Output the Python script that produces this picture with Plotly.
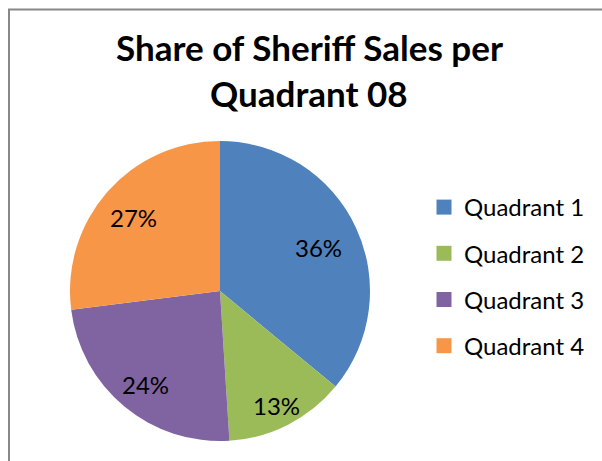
import numpy as np
import plotly.graph_objects as go

labels = ["Quadrant 1", "Quadrant 2", "Quadrant 3", "Quadrant 4"]
values = [36, 13, 24, 27]
colors = ["#4F81BD", "#9BBB59", "#8064A2", "#F79646"]
title_lines = ["Share of Sheriff Sales per", "Quadrant 08"]

W, H = 602, 461
FONT = "Lato"
CX, CY, R = 220, 291, 150  # pie centre / radius in pixels

fig = go.Figure()
fig.add_trace(go.Pie(
    labels=labels, values=values, sort=False, direction="clockwise", rotation=0,
    marker=dict(colors=colors, line=dict(width=0)),
    textinfo="none",
    domain=dict(x=[(CX - R) / W, (CX + R) / W], y=[1 - (CY + R) / H, 1 - (CY - R) / H]),
    showlegend=False, hoverinfo="label+percent",
))
for lab, col in zip(labels, colors):
    fig.add_trace(go.Scatter(
        x=[None], y=[None], mode="markers", name=lab, legendgroup=lab,
        marker=dict(symbol="square", size=15, color=col), showlegend=True,
    ))

annos = []
for i, line in enumerate(title_lines):
    annos.append(dict(text="<b>" + line + "</b>", x=309 / W, y=1 - (47 + 46 * i) / H,
                      xref="paper", yref="paper", xanchor="center", yanchor="middle",
                      showarrow=False, font=dict(family=FONT, size=35, color="black")))

# percentage labels, placed along each slice bisector (Excel "best fit" style)
vals = np.array(values, dtype=float)
frac = vals / vals.sum()
ends = np.cumsum(frac)
mids = (ends - frac / 2) * 2 * np.pi
for f, a in zip(frac, mids):
    rho = R * (0.893 - 0.46 * f)
    px = CX + rho * np.sin(a)
    py = CY - rho * np.cos(a) + 3
    annos.append(dict(text=f"{round(f * 100)}%", x=px / W, y=1 - py / H,
                      xref="paper", yref="paper", xanchor="center", yanchor="middle",
                      showarrow=False, font=dict(family=FONT, size=24, color="black")))

fig.update_layout(
    width=W, height=H, margin=dict(l=0, r=0, t=0, b=0),
    paper_bgcolor="white", plot_bgcolor="white",
    xaxis=dict(visible=False), yaxis=dict(visible=False),
    annotations=annos,
    legend=dict(x=424 / W, y=1 - 185 / H, xanchor="left", yanchor="top",
                font=dict(family=FONT, size=24, color="black"),
                traceorder="grouped", tracegroupgap=12, itemsizing="trace",
                bgcolor="rgba(0,0,0,0)"),
    shapes=[dict(type="rect", xref="paper", yref="paper", x0=9 / W, x1=1.05,
                 y0=-0.05, y1=1 - 9.5 / H, line=dict(color="#888888", width=2),
                 fillcolor="rgba(0,0,0,0)", layer="above")],
)
fig.write_html("out.html", config={"displayModeBar": False},
               post_script="document.body.style.margin='0';")
